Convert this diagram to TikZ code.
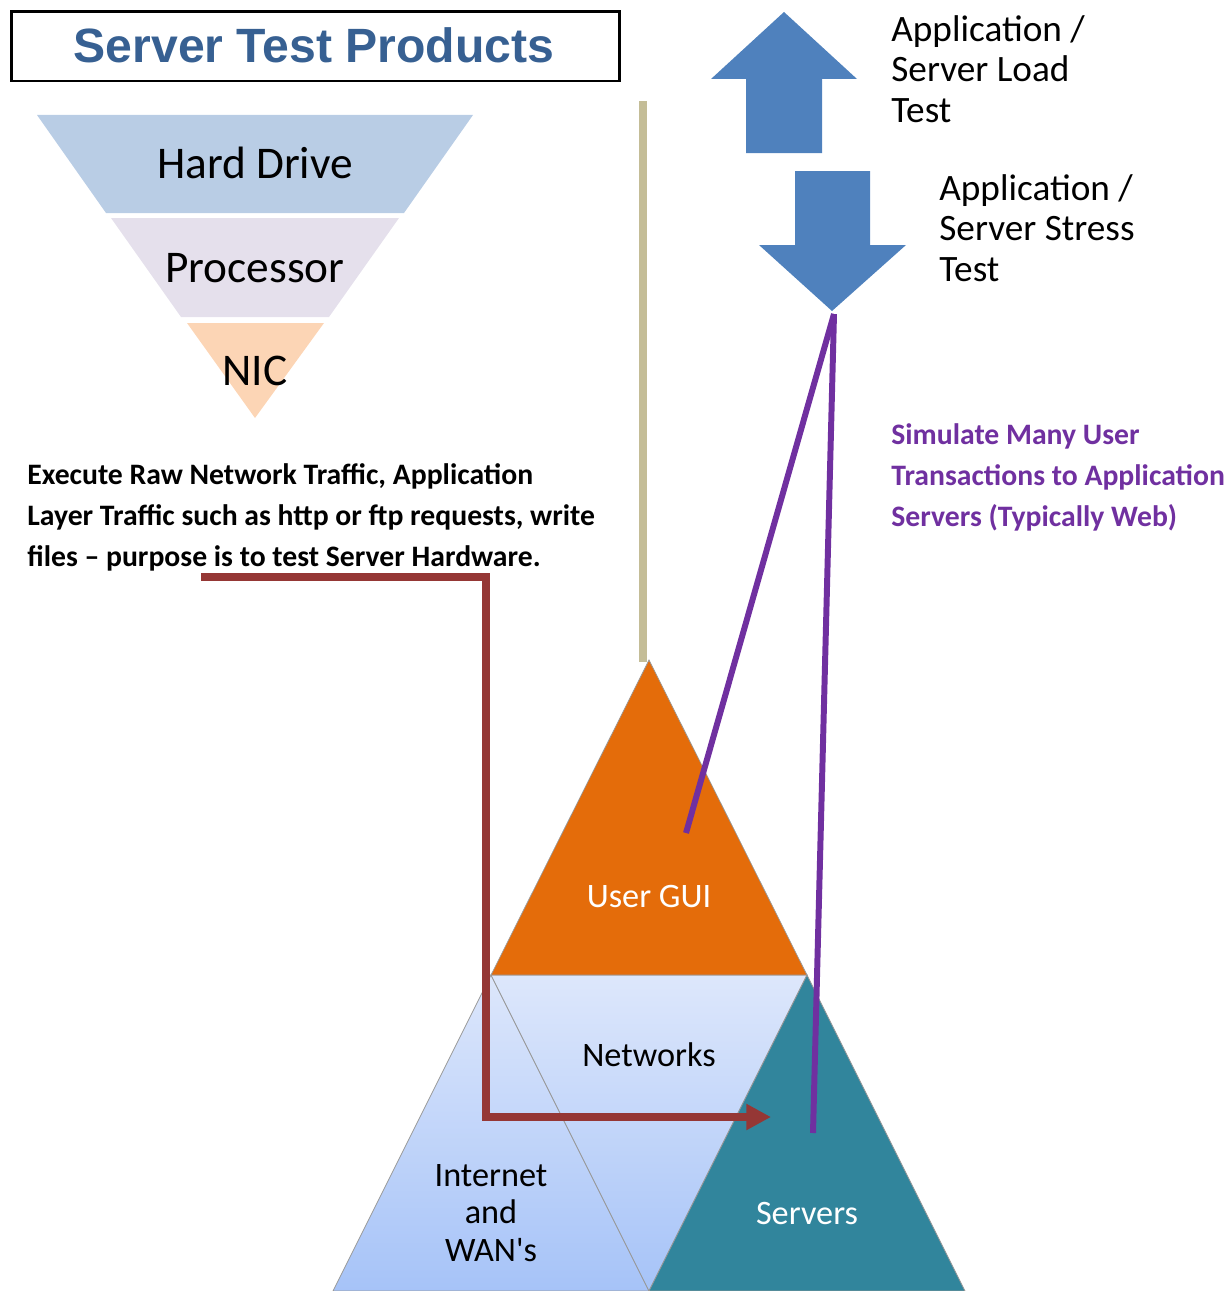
\documentclass[tikz,border=0pt]{standalone}
\usepackage{fontspec}
\setmainfont{Carlito}
\newfontfamily\titlefont{Liberation Sans}
\usepackage{tikz}
\usetikzlibrary{arrows.meta}

\definecolor{titleblue}{HTML}{376092}
\definecolor{hdblue}{HTML}{B9CDE5}
\definecolor{proclilac}{HTML}{E5E0EC}
\definecolor{nicpeach}{HTML}{FCD5B5}
\definecolor{dividerbeige}{HTML}{C4BD97}
\definecolor{arrowblue}{HTML}{4F81BD}
\definecolor{simviolet}{HTML}{7030A0}
\definecolor{brickred}{HTML}{953735}
\definecolor{guiorange}{HTML}{E46C0A}
\definecolor{serverteal}{HTML}{31859C}
\definecolor{netlight}{HTML}{DDE7FB}
\definecolor{netdark}{HTML}{A6C3F8}

\tikzset{
  funneltext/.style={font=\fontsize{25.8}{30}\selectfont, inner sep=0pt},
  pyramidtext/.style={font=\fontsize{19.5}{21.5}\selectfont, inner sep=0pt, align=center},
  arrowtext/.style={font=\fontsize{21.2}{23.2}\selectfont, inner sep=0pt, align=left, anchor=north west},
  notetext/.style={font=\bfseries\fontsize{16.9}{23.4}\selectfont, inner sep=0pt, align=left, anchor=north west},
  pyramidpart/.style={draw=gray!80, line width=0.4pt}
}

\begin{document}
\begin{tikzpicture}[x=0.02cm, y=-0.02cm]
    \useasboundingbox (0, 0) rectangle (1228, 1291);

    % draw title box
    \draw[line width=1.7pt] (11.5, 11.5) rectangle (619, 81);
    \node[font=\titlefont\bfseries\fontsize{27.4}{30}\selectfont, text=titleblue, inner sep=0pt] (title) at (314, 45) {Server Test Products};

    % draw funnel
    \fill[hdblue] (37, 115) -- (473, 115) -- (404, 213) -- (106, 213) -- cycle;
    \fill[proclilac] (111, 218) -- (399, 218) -- (329, 317) -- (181, 317) -- cycle;
    \fill[nicpeach] (187, 323) -- (324, 323) -- (255, 418) -- cycle;

    \node[funneltext] (harddrive) at (255, 163) {Hard Drive};
    \node[funneltext] (processor) at (255, 268) {Processor};
    \node[funneltext] (nic) at (255, 371) {NIC};

    % draw divider
    \draw[dividerbeige, line width=4pt] (643, 101) -- (643, 662);

    % draw load / stress arrows
    \fill[arrowblue] (784, 12) -- (857, 79) -- (822, 79) -- (822, 153) -- (746, 153) -- (746, 79) -- (711, 79) -- cycle;
    \fill[arrowblue] (795, 171) -- (870, 171) -- (870, 245) -- (906, 245) -- (832, 311) -- (759, 245) -- (795, 245) -- cycle;
    \coordinate (stresstip) at (834, 314);

    \node[arrowtext] (loadtest) at (891, 15) {Application /\\Server Load\\Test};
    \node[arrowtext] (stresstest) at (939, 174) {Application /\\Server Stress\\Test};

    % draw notes
    \node[notetext] (hwnote) at (27, 463) {Execute Raw Network Traffic, Application\\Layer Traffic such as http or ftp requests, write\\files -- purpose is to test Server Hardware.};
    \node[notetext, text=simviolet] (simnote) at (891, 423) {Simulate Many User\\Transactions to Application\\Servers (Typically Web)};

    % draw pyramid
    \path[pyramidpart, top color=netlight, bottom color=netdark] (491, 975) -- (333, 1291) -- (649, 1291) -- cycle;
    \path[pyramidpart, top color=netlight, bottom color=netdark] (491, 975) -- (807, 975) -- (649, 1291) -- cycle;
    \filldraw[pyramidpart, fill=serverteal] (807, 975) -- (649, 1291) -- (965, 1291) -- cycle;
    \filldraw[pyramidpart, fill=guiorange] (649, 660) -- (807, 975) -- (491, 975) -- cycle;

    \node[pyramidtext, text=white] (usergui) at (649, 896) {User GUI};
    \node[pyramidtext] (networks) at (649, 1055) {Networks};
    \node[pyramidtext] (internet) at (491, 1213) {Internet\\and\\WAN\textquotesingle s};
    \node[pyramidtext, text=white] (servers) at (807, 1213) {Servers};

    % draw connectors
    \coordinate (hwstart) at (201, 577);
    \coordinate (hwend) at (771, 1117);
    \draw[brickred, line width=4pt, -{Triangle[length=14pt, width=14pt]}] (hwstart) -| (486, 1117) -- (hwend);

    \coordinate (guiend) at (686, 833);
    \coordinate (serverend) at (813, 1133);
    \draw[simviolet, line width=3.4pt] (stresstip) -- (guiend);
    \draw[simviolet, line width=3.4pt] (stresstip) -- (serverend);
\end{tikzpicture}
\end{document}
